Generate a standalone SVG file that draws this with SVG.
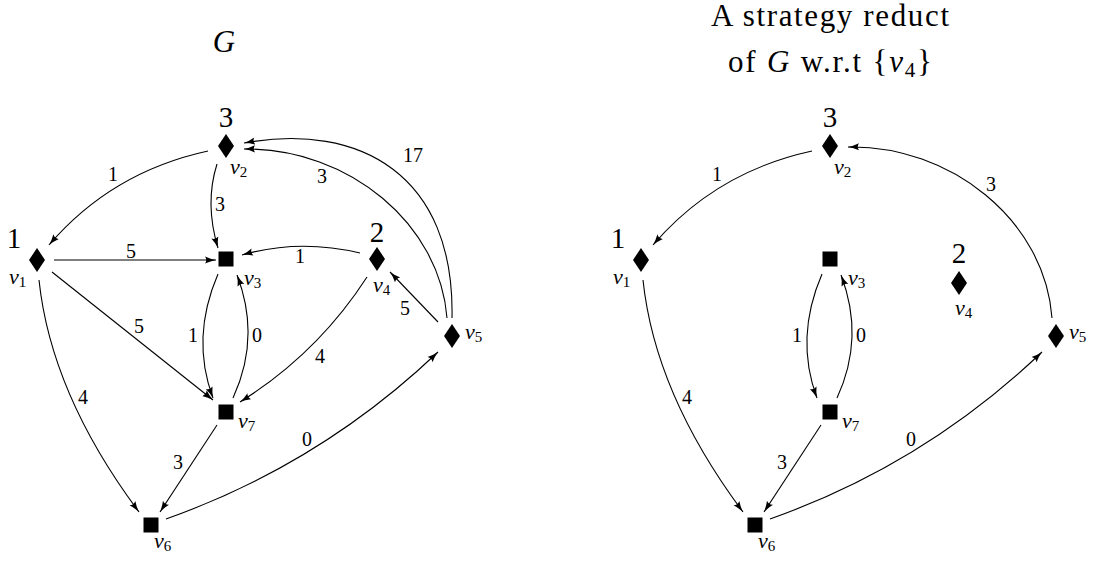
<svg xmlns="http://www.w3.org/2000/svg" width="1099" height="561" viewBox="0 0 1099 561">
<defs>
<marker id="arr" markerUnits="userSpaceOnUse" markerWidth="12" markerHeight="9" refX="11" refY="4" orient="auto">
<path d="M0,0.4 Q5.5,3 11,4 Q5.5,5 0,7.6 Q2.5,4 0,0.4 Z" fill="#000"/>
</marker>
<polygon id="dia" points="0,-12 8,0 0,12 -8,0"/>
<rect id="sq" x="-7.5" y="-7.5" width="15" height="15"/>
</defs>
<style>
.e{fill:none;stroke:#000;stroke-width:1.1;marker-end:url(#arr)}
text{font-family:"Liberation Serif","Times New Roman",serif;fill:#000}
.el{font-size:20px;text-anchor:middle}
.nl{font-size:29px;text-anchor:middle}
.vl{font-size:22px;font-style:italic}
.sub{font-size:15px;font-style:normal}
.t{font-size:31px;text-anchor:middle}
</style>
<rect width="1099" height="561" fill="#fff"/>

<text class="t" x="224" y="52" font-style="italic">G</text>
<text class="t" x="830" y="26" textLength="238" lengthAdjust="spacing">A strategy reduct</text>
<text class="t" x="830" y="72" textLength="204" lengthAdjust="spacing">of <tspan font-style="italic">G</tspan> w.r.t {<tspan font-style="italic">v</tspan><tspan font-size="21" dy="5">4</tspan><tspan dy="-5">}</tspan></text>

<g id="connectors">
<g id="left-edges">
<path class="e" d="M208,151 Q111.5,172 49,245"/>
<path class="e" d="M217,164 Q204.5,203.5 218,248"/>
<path class="e" d="M54,260 L216,260"/>
<path class="e" d="M360,253 Q299,238.5 242,255"/>
<path class="e" d="M438,322 L390,272"/>
<path class="e" d="M447,318 C440,225 350,148 244,149"/>
<path class="e" d="M452,318 C455,175 360,122 244,143"/>
<path class="e" d="M52,272 L213,400"/>
<path class="e" d="M39,280 Q51,394 139,512"/>
<path class="e" d="M218,274 Q190.5,338 213,398"/>
<path class="e" d="M233,398 Q261,337.5 237,275"/>
<path class="e" d="M367,277 Q317.5,353.7 240,402"/>
<path class="e" d="M217,425 L160,512"/>
<path class="e" d="M166,519 Q319.8,464.5 438,352"/>
<text class="el" x="113" y="181">1</text>
<text class="el" x="220" y="211">3</text>
<text class="el" x="131" y="258">5</text>
<text class="el" x="300" y="263">1</text>
<text class="el" x="405" y="315">5</text>
<text class="el" x="322" y="183">3</text>
<text class="el" x="413" y="162">17</text>
<text class="el" x="139" y="333">5</text>
<text class="el" x="83" y="404">4</text>
<text class="el" x="193" y="342">1</text>
<text class="el" x="257" y="342">0</text>
<text class="el" x="320" y="363">4</text>
<text class="el" x="178" y="469">3</text>
<text class="el" x="307" y="446">0</text>
</g>
<g id="right-edges">
<g transform="translate(604,0)">
<path class="e" d="M208,151 Q111.5,172 49,245"/>
<path class="e" d="M39,280 Q51,394 139,512"/>
<path class="e" d="M218,274 Q190.5,338 213,398"/>
<path class="e" d="M233,398 Q261,337.5 237,275"/>
<path class="e" d="M217,425 L160,512"/>
<path class="e" d="M166,519 Q319.8,464.5 438,352"/>
<text class="el" x="113" y="181">1</text>
<text class="el" x="83" y="404">4</text>
<text class="el" x="193" y="342">1</text>
<text class="el" x="257" y="342">0</text>
<text class="el" x="178" y="469">3</text>
<text class="el" x="307" y="446">0</text>
</g>
<path class="e" d="M1052,318 C1045,220 950,145 848,147"/>
<text class="el" x="991" y="191">3</text>
</g>
</g>

<g id="v1"><use href="#dia" x="37" y="260"/><text class="nl" x="14" y="248">1</text><text class="vl" x="9" y="284">v<tspan class="sub" dy="3">1</tspan></text></g>
<g id="v2"><use href="#dia" x="226" y="146"/><text class="nl" x="226" y="127">3</text><text class="vl" x="230" y="174">v<tspan class="sub" dy="3">2</tspan></text></g>
<g id="v3"><use href="#sq" x="226" y="259"/><text class="vl" x="244" y="285">v<tspan class="sub" dy="3">3</tspan></text></g>
<g id="v4"><use href="#dia" x="377" y="259"/><text class="nl" x="377" y="242">2</text><text class="vl" x="373" y="292">v<tspan class="sub" dy="3">4</tspan></text></g>
<g id="v5"><use href="#dia" x="452" y="336"/><text class="vl" x="465" y="339">v<tspan class="sub" dy="3">5</tspan></text></g>
<g id="v6"><use href="#sq" x="151" y="525"/><text class="vl" x="154" y="548">v<tspan class="sub" dy="3">6</tspan></text></g>
<g id="v7"><use href="#sq" x="226" y="412"/><text class="vl" x="238" y="428">v<tspan class="sub" dy="3">7</tspan></text></g>

<g id="r-v1"><use href="#dia" x="641" y="260"/><text class="nl" x="618" y="248">1</text><text class="vl" x="613" y="284">v<tspan class="sub" dy="3">1</tspan></text></g>
<g id="r-v2"><use href="#dia" x="830" y="146"/><text class="nl" x="830" y="127">3</text><text class="vl" x="834" y="174">v<tspan class="sub" dy="3">2</tspan></text></g>
<g id="r-v3"><use href="#sq" x="830" y="259"/><text class="vl" x="848" y="285">v<tspan class="sub" dy="3">3</tspan></text></g>
<g id="r-v4"><use href="#dia" x="959" y="283"/><text class="nl" x="959" y="263">2</text><text class="vl" x="955" y="315">v<tspan class="sub" dy="3">4</tspan></text></g>
<g id="r-v5"><use href="#dia" x="1056" y="336"/><text class="vl" x="1069" y="339">v<tspan class="sub" dy="3">5</tspan></text></g>
<g id="r-v6"><use href="#sq" x="755" y="525"/><text class="vl" x="758" y="548">v<tspan class="sub" dy="3">6</tspan></text></g>
<g id="r-v7"><use href="#sq" x="830" y="412"/><text class="vl" x="842" y="428">v<tspan class="sub" dy="3">7</tspan></text></g>
</svg>
